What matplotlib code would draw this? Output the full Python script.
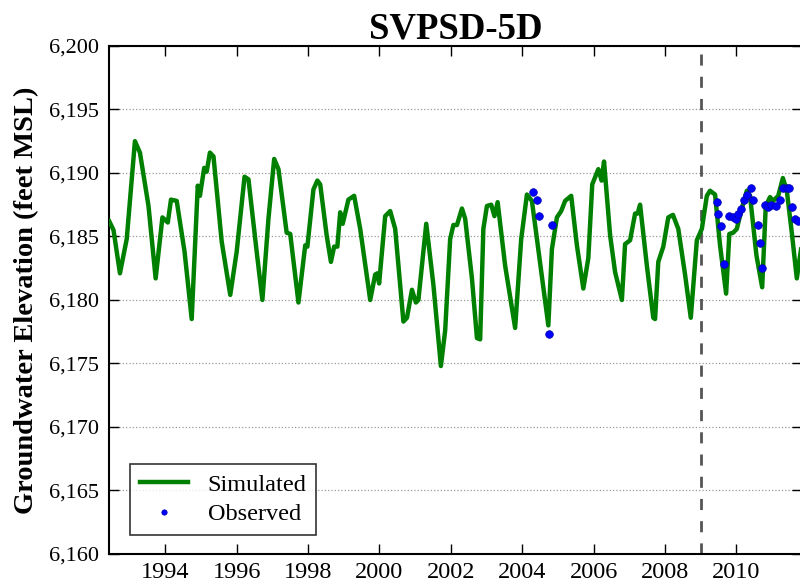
import numpy as np
import matplotlib
matplotlib.use('Agg')
import matplotlib.pyplot as plt
from matplotlib.ticker import FuncFormatter

#simulated groundwater elevation (decimal year, feet MSL)
sim_year = [1992.43, 1992.55, 1992.73, 1992.92, 1993.15, 1993.29, 1993.53, 1993.73, 1993.92, 1994.07,
            1994.16, 1994.32, 1994.54, 1994.74, 1994.91, 1994.97, 1995.09, 1995.16, 1995.25, 1995.35,
            1995.58, 1995.82, 1996.00, 1996.22, 1996.33, 1996.56, 1996.72, 1996.89, 1997.05, 1997.17,
            1997.40, 1997.50, 1997.73, 1997.92, 1997.98, 1998.15, 1998.26, 1998.34, 1998.52, 1998.64,
            1998.73, 1998.82, 1998.90, 1998.97, 1999.13, 1999.29, 1999.46, 1999.74, 1999.88, 1999.94,
            1999.99, 2000.16, 2000.30, 2000.44, 2000.67, 2000.77, 2000.91, 2001.02, 2001.09, 2001.31,
            2001.51, 2001.72, 2001.84, 2001.98, 2002.07, 2002.17, 2002.31, 2002.40, 2002.59, 2002.73,
            2002.82, 2002.91, 2003.01, 2003.13, 2003.22, 2003.31, 2003.52, 2003.80, 2003.97, 2004.13,
            2004.27, 2004.73, 2004.83, 2004.97, 2005.09, 2005.20, 2005.37, 2005.53, 2005.71, 2005.85,
            2005.96, 2006.13, 2006.22, 2006.29, 2006.46, 2006.60, 2006.79, 2006.88, 2007.02, 2007.16,
            2007.23, 2007.30, 2007.49, 2007.67, 2007.72, 2007.81, 2007.95, 2008.09, 2008.22, 2008.37,
            2008.56, 2008.72, 2008.89, 2009.03, 2009.17, 2009.26, 2009.40, 2009.54, 2009.71, 2009.80,
            2009.91, 2010.01, 2010.15, 2010.29, 2010.38, 2010.56, 2010.72, 2010.82, 2010.94, 2011.03,
            2011.17, 2011.30, 2011.41, 2011.55, 2011.69, 2011.84]
sim_elev = [6186.2, 6185.5, 6182.1, 6184.8, 6192.5, 6191.6, 6187.4, 6181.7, 6186.5, 6186.1,
            6187.9, 6187.8, 6183.8, 6178.5, 6189.0, 6188.2, 6190.4, 6190.1, 6191.6, 6191.3,
            6184.6, 6180.4, 6183.8, 6189.7, 6189.5, 6183.8, 6180.0, 6186.4, 6191.1, 6190.3,
            6185.3, 6185.2, 6179.8, 6184.3, 6184.2, 6188.7, 6189.4, 6189.1, 6185.1, 6183.0,
            6184.2, 6184.2, 6186.9, 6186.0, 6187.9, 6188.2, 6185.6, 6180.0, 6182.0, 6182.1,
            6181.3, 6186.6, 6187.0, 6185.6, 6178.3, 6178.6, 6180.8, 6179.8, 6180.0, 6186.0,
            6181.2, 6174.8, 6177.6, 6184.8, 6185.9, 6185.9, 6187.2, 6186.4, 6181.7, 6177.0,
            6176.9, 6185.6, 6187.4, 6187.5, 6186.6, 6187.7, 6182.7, 6177.8, 6184.8, 6188.3,
            6187.8, 6178.0, 6184.0, 6186.5, 6187.0, 6187.8, 6188.2, 6184.3, 6180.9, 6183.3,
            6189.1, 6190.3, 6189.4, 6190.9, 6185.1, 6182.2, 6180.0, 6184.4, 6184.7, 6186.8,
            6186.8, 6187.5, 6182.7, 6178.6, 6178.5, 6183.0, 6184.2, 6186.5, 6186.7, 6185.6,
            6182.0, 6178.6, 6184.7, 6185.6, 6188.2, 6188.6, 6188.3, 6184.3, 6180.5, 6185.2,
            6185.3, 6185.6, 6187.2, 6188.6, 6188.2, 6183.5, 6181.0, 6187.4, 6188.1, 6187.8,
            6188.2, 6189.6, 6188.6, 6185.3, 6181.7, 6184.6]

#observed water levels
obs_year = [2004.31, 2004.41, 2004.48, 2004.74, 2004.82,
            2009.45, 2009.49, 2009.56, 2009.65, 2009.80, 2009.89, 2009.99, 2010.05, 2010.12, 2010.21,
            2010.30, 2010.41, 2010.47, 2010.61, 2010.66, 2010.72, 2010.80, 2010.88, 2010.97, 2011.11,
            2011.22, 2011.31, 2011.41, 2011.48, 2011.56, 2011.64, 2011.73]
obs_elev = [6188.5, 6187.9, 6186.6, 6177.3, 6185.9,
            6187.7, 6186.8, 6185.8, 6182.8, 6186.6, 6186.5, 6186.4, 6186.8, 6187.2, 6187.9,
            6188.3, 6188.8, 6187.9, 6185.9, 6184.5, 6182.5, 6187.5, 6187.3, 6187.5, 6187.4,
            6187.9, 6188.8, 6188.8, 6188.8, 6187.3, 6186.4, 6186.2]

calib_end = 2009.0
year_ticks = np.arange(1994, 2012, 2)

plt.rcParams['font.family'] = ['Liberation Serif', 'DejaVu Serif']

fig = plt.figure(figsize=(8, 5.86), dpi=100)
ax = fig.add_axes([0.1361, 0.0546, 0.8666, 0.867])

#plotting the values
ax.plot(sim_year, sim_elev, color='#008000', lw=3.2, label='Simulated', zorder=3)
ax.plot(obs_year, obs_elev, 'o', color='#0000ff', mec='#0000aa', mew=0.5, ms=5.5,
        label='Observed', zorder=4)
ax.axvline(calib_end, color='#555555', lw=2, dashes=(4, 4), zorder=2)

ax.set_xlim(1992.42, 2011.84)
ax.set_ylim(6160, 6200)
ax.set_xticks(year_ticks)
ax.set_yticks(np.arange(6160, 6201, 5))
ax.yaxis.set_major_formatter(FuncFormatter(lambda v, p: '{:,.0f}'.format(v)))
ax.yaxis.grid(True, ls=':', color='#999999', lw=0.9)
ax.tick_params(direction='in', length=7, width=1, top=True, right=True)
ax.tick_params(axis='y', pad=7, labelsize=16)
ax.tick_params(axis='x', pad=6, labelsize=17.5)
for s in ax.spines.values():
    s.set_linewidth(1.5)

ax.set_title('SVPSD-5D', fontsize=26.5, fontweight='bold', pad=5)
ax.set_ylabel('Groundwater Elevation (feet MSL)', fontsize=20.5, fontweight='bold', labelpad=7)

leg = ax.legend(loc='lower left', bbox_to_anchor=(130 / 800, 51 / 586), bbox_transform=fig.transFigure,
                borderaxespad=0, fontsize=17.5, numpoints=1, markerscale=0.7, fancybox=False,
                handlelength=2.0, borderpad=0.4, labelspacing=0.3)
leg.get_frame().set_edgecolor('black')
leg.get_frame().set_linewidth(1.2)

fig.savefig('out.png', dpi=100)
